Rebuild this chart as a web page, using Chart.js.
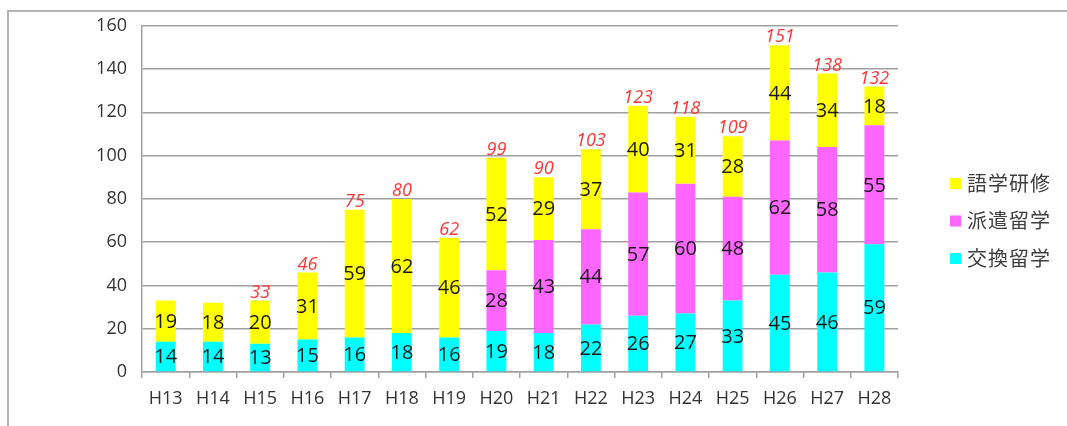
<!DOCTYPE html>
<html>
<head>
<meta charset="utf-8">
<script src="https://cdn.jsdelivr.net/npm/chart.js@4"></script>
<style>
    html, body { margin: 0; padding: 0; background: #fff; }
    #wrap { position: relative; width: 1067px; height: 426px; overflow: hidden; }
    #frame { position: absolute; left: 7px; top: 10px; width: 1100px; height: 500px; border: 2px solid #b4b4b4; box-sizing: border-box; }
    #chart { position: absolute; left: 0; top: 0; }
</style>
</head>
<body>
<div id="wrap">
    <div id="frame"></div>
    <canvas id="chart" width="1067" height="426"></canvas>
</div>
<script>
const years = ['H13', 'H14', 'H15', 'H16', 'H17', 'H18', 'H19', 'H20', 'H21', 'H22', 'H23', 'H24', 'H25', 'H26', 'H27', 'H28'];
const exchange = [14, 14, 13, 15, 16, 18, 16, 19, 18, 22, 26, 27, 33, 45, 46, 59];   // 交換留学
const dispatch = [0, 0, 0, 0, 0, 0, 0, 28, 43, 44, 57, 60, 48, 62, 58, 55];          // 派遣留学
const language = [19, 18, 20, 31, 59, 62, 46, 52, 29, 37, 40, 31, 28, 44, 34, 18];  // 語学研修
const totals = [null, null, 33, 46, 75, 80, 62, 99, 90, 103, 123, 118, 109, 151, 138, 132];
const yTicks = [0, 20, 40, 60, 80, 100, 120, 140, 160];

const labelFont = '"Open Sans", "Lato", sans-serif';

// numbers inside the bars + red totals on top
const valueLabels = {
    id: 'valueLabels',
    afterDatasetsDraw(chart) {
        const ctx = chart.ctx;
        ctx.save();
        ctx.textAlign = 'center';
        ctx.textBaseline = 'middle';
        ctx.font = '20px ' + labelFont;
        ctx.fillStyle = '#1a1a1a';
        chart.data.datasets.forEach((ds, i) => {
            chart.getDatasetMeta(i).data.forEach((bar, j) => {
                if (!ds.data[j]) return;
                ctx.fillText(ds.data[j], bar.x, (bar.y + bar.base) / 2 + 1);
            });
        });
        ctx.font = 'italic 18px ' + labelFont;
        ctx.fillStyle = '#ff3333';
        ctx.textBaseline = 'bottom';
        const top = chart.getDatasetMeta(chart.data.datasets.length - 1).data;
        const y = chart.scales.y;
        totals.forEach((t, j) => {
            if (t == null) return;
            ctx.fillText(t, top[j].x, y.getPixelForValue(t) + 1);
        });
        ctx.restore();
    }
};

// legend on the right, top entry = last dataset
const sideLegend = {
    id: 'sideLegend',
    afterDraw(chart) {
        const ctx = chart.ctx;
        const rows = [2, 1, 0];
        ctx.save();
        ctx.font = '20px "Noto Sans CJK JP", sans-serif';
        ctx.letterSpacing = '1px';
        ctx.textBaseline = 'middle';
        rows.forEach((i, k) => {
            const ds = chart.data.datasets[i];
            const cy = 183 + k * 37.5;
            ctx.fillStyle = ds.backgroundColor;
            ctx.fillRect(950, cy - 5, 11, 11);
            ctx.fillStyle = '#404040';
            ctx.fillText(ds.label, 967, cy);
        });
        ctx.restore();
    }
};

new Chart(document.getElementById('chart'), {
    type: 'bar',
    data: {
        labels: years,
        datasets: [
            { label: '交換留学', data: exchange, backgroundColor: '#00ffff' },
            { label: '派遣留学', data: dispatch, backgroundColor: '#ff66ff' },
            { label: '語学研修', data: language, backgroundColor: '#ffff00' },
        ],
    },
    options: {
        responsive: false,
        animation: false,
        layout: { padding: { top: 22, right: 169, left: 0, bottom: 0 } },
        datasets: { bar: { categoryPercentage: 1, barPercentage: 0.42 } },
        plugins: { legend: { display: false }, tooltip: { enabled: false } },
        scales: {
            x: {
                stacked: true,
                grid: { display: true, offset: true, drawOnChartArea: false, drawTicks: true, tickLength: 6, color: '#a0a0a0', lineWidth: 1.5 },
                border: { color: '#a0a0a0', width: 1.5 },
                ticks: { color: '#333333', font: { size: 18, family: labelFont }, padding: 10, maxRotation: 0 },
                afterFit: (s) => { s.height = 54; },
            },
            y: {
                stacked: true,
                min: 0,
                max: 160,
                afterBuildTicks: (s) => { s.ticks = yTicks.map(v => ({ value: v })); },
                grid: { color: '#a0a0a0', lineWidth: 1.5, drawTicks: false },
                border: { color: '#a0a0a0', width: 1.5 },
                ticks: { color: '#333333', font: { size: 18, family: labelFont }, padding: 15 },
                afterFit: (s) => { s.width = 142; },
            }
        }
    },
    plugins: [valueLabels, sideLegend]
});
</script>
</body>
</html>
